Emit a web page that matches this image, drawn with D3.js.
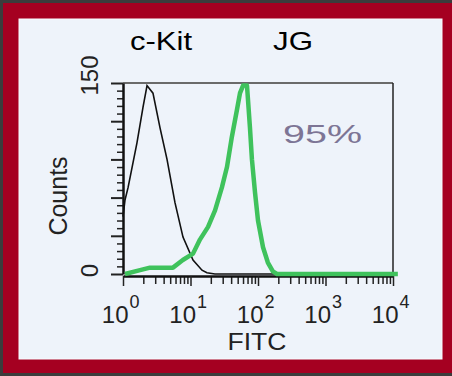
<!DOCTYPE html>
<html>
<head>
<meta charset="utf-8">
<script src="https://cdn.jsdelivr.net/npm/d3@7"></script>
<style>
  body { margin: 0; background: #3c3c3c; }
  svg { display: block; font-family: "Liberation Sans", Arial, sans-serif; }
</style>
</head>
<body>
<div id="chart"></div>
<script>
// --- data (FITC value, count) ---
const titles = ["c-Kit", "JG"];
const percentLabel = "95%";
const yTickValues = [0, 150];
const decades = [1, 10, 100, 1000, 10000];

const ckitX = [1, 1.07, 1.19, 1.61, 1.98, 2.27, 2.78, 3.53, 4.49, 5.89, 7.74, 10.9, 14.8, 17.5, 23, 212];
const ckitY = [45, 58, 68, 103, 131, 148, 142, 115, 90, 56, 29, 11, 3, 1, 0, 0];

const jgX = [1.07, 1.79, 2.51, 3.53, 5.5, 7.7, 10.9, 13.8, 18.2, 23.1, 29.2, 34.7, 41.1, 48.8, 54.1, 60, 68.7, 76, 81.3, 90.3, 100, 118.7, 140, 166, 191, 11800];
const jgY = [0, 3, 5, 5, 5, 11, 16, 27, 37, 50, 68, 84, 108, 129, 142, 148, 148, 115, 90, 64, 42, 21, 9, 2, 0, 0];

const W = 452, H = 376;
const plot = { left: 123, right: 393, top: 83, bottom: 274 };

const svg = d3.select("#chart").append("svg")
  .attr("width", W)
  .attr("height", H);

// frame
svg.append("rect").attr("x", 3).attr("y", 3).attr("width", W - 3).attr("height", 370).attr("fill", "#a50021");
svg.append("rect").attr("x", 19).attr("y", 19).attr("width", 423).attr("height", 340)
  .attr("fill", "#eef3fa").attr("stroke", "#f8fbff").attr("stroke-width", 1);

// --- scales ---
const x = d3.scaleLog().domain([1, 10000]).range([plot.left, plot.right]);
const y = d3.scaleLinear().domain([0, 150]).range([plot.bottom, plot.top]);

// titles
svg.append("text").attr("x", 130).attr("y", 50).attr("font-size", 25)
  .attr("textLength", 62).attr("lengthAdjust", "spacingAndGlyphs").text(titles[0]);
svg.append("text").attr("x", 273).attr("y", 50).attr("font-size", 25)
  .attr("textLength", 40).attr("lengthAdjust", "spacingAndGlyphs").text(titles[1]);

// box top + right
svg.append("line").attr("x1", plot.left).attr("x2", plot.right).attr("y1", plot.top).attr("y2", plot.top)
  .attr("stroke", "#6a6a6a").attr("stroke-width", 2);
svg.append("line").attr("x1", plot.right).attr("x2", plot.right).attr("y1", plot.top).attr("y2", 276)
  .attr("stroke", "#222").attr("stroke-width", 1.5);

// --- y axis: minor ticks, then major ---
const yMinor = d3.range(0, 151, 6).filter(v => v % 30 !== 0);
svg.append("g").attr("transform", `translate(${plot.left},0)`)
  .call(d3.axisLeft(y).tickValues(yMinor).tickSize(6).tickFormat(""))
  .call(g => g.select(".domain").remove())
  .selectAll("line").attr("stroke", "#222").attr("stroke-width", 1.5);

const yAxisG = svg.append("g").attr("transform", `translate(${plot.left},0)`)
  .call(d3.axisLeft(y).tickValues(d3.range(0, 151, 30)).tickSize(12).tickSizeOuter(0)
    .tickFormat(d => yTickValues.includes(d) ? d : ""));
yAxisG.select(".domain").attr("stroke", "#111").attr("stroke-width", 2.5);
yAxisG.selectAll("line").attr("stroke", "#222").attr("stroke-width", 2);
yAxisG.selectAll("text")
  .attr("x", 0).attr("dy", 0)
  .attr("font-size", 24).attr("fill", "#222")
  .attr("font-family", "Liberation Sans, Arial, sans-serif")
  .attr("text-anchor", "middle")
  .attr("transform", d => `translate(-25,${d === 150 ? -8 : -4}) rotate(-90)`);

svg.append("text")
  .attr("transform", "translate(67,196) rotate(-90)")
  .attr("text-anchor", "middle").attr("font-size", 25).attr("fill", "#222")
  .text("Counts");

// --- x axis ---
const xMinor = [];
decades.slice(0, -1).forEach(d => { for (let k = 2; k <= 9; k++) xMinor.push(d * k); });

svg.append("g").attr("transform", `translate(0,276)`)
  .call(d3.axisBottom(x).tickValues(xMinor).tickSize(8).tickFormat(""))
  .call(g => g.select(".domain").remove())
  .selectAll("line").attr("stroke", "#222").attr("stroke-width", 1.5);

const xAxisG = svg.append("g").attr("transform", `translate(0,276)`)
  .call(d3.axisBottom(x).tickValues(decades).tickSize(10).tickSizeOuter(0).tickFormat(() => ""));
xAxisG.select(".domain").attr("stroke", "#111").attr("stroke-width", 2.5);
xAxisG.selectAll("line").attr("stroke", "#222").attr("stroke-width", 1.5);
xAxisG.selectAll(".tick").each(function(d) {
  const t = d3.select(this);
  const e = Math.round(Math.log10(d));
  t.append("text").attr("x", 5).attr("y", 47).attr("text-anchor", "end")
    .attr("font-size", 24).attr("fill", "#222").text("10");
  t.append("text").attr("x", 6).attr("y", 32).attr("text-anchor", "start")
    .attr("font-size", 18).attr("fill", "#222").text(e);
});

svg.append("text").attr("x", 257).attr("y", 350).attr("text-anchor", "middle")
  .attr("font-size", 24).attr("fill", "#222")
  .attr("textLength", 59).attr("lengthAdjust", "spacingAndGlyphs")
  .text("FITC");

// --- histograms ---
const line = d3.line().x(d => x(d[0])).y(d => y(d[1]));

svg.append("path")
  .datum(d3.zip(ckitX, ckitY))
  .attr("d", line)
  .attr("fill", "none").attr("stroke", "#111").attr("stroke-width", 1.6);

svg.append("path")
  .datum(d3.zip(jgX, jgY))
  .attr("d", line)
  .attr("fill", "none").attr("stroke", "#3fc25c").attr("stroke-width", 4.5)
  .attr("stroke-linejoin", "round");

svg.append("text").attr("x", 283).attr("y", 143).attr("font-size", 25)
  .attr("fill", "#7d7595")
  .attr("textLength", 79).attr("lengthAdjust", "spacingAndGlyphs")
  .text(percentLabel);
</script>
</body>
</html>
